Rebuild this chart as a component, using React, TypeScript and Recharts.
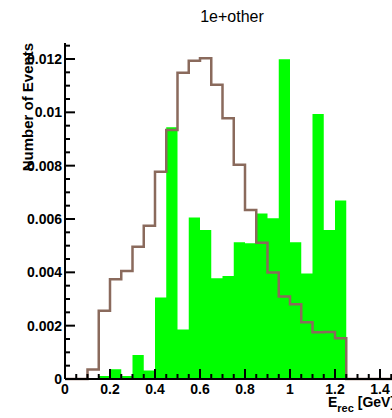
import { ComposedChart, Area, Line, XAxis, YAxis } from "recharts";

// histogram bin low edges (width 0.05 GeV), last entry closes the range
const binEdges = [
  0, 0.05, 0.1, 0.15, 0.2, 0.25, 0.3, 0.35, 0.4, 0.45, 0.5, 0.55, 0.6, 0.65,
  0.7, 0.75, 0.8, 0.85, 0.9, 0.95, 1.0, 1.05, 1.1, 1.15, 1.2, 1.25, 1.3, 1.35,
  1.4, 1.45, 1.5,
];

// green filled histogram (1e+other)
const greenCounts = [
  0, 0, 0.00004, 0.00011, 0.00037, 0.00011, 0.0009, 0.00032, 0.00306, 0.00944,
  0.00186, 0.00606, 0.00559, 0.00378, 0.00386, 0.00513, 0.00509, 0.00621,
  0.00603, 0.01199, 0.00513, 0.00396, 0.00994, 0.00559, 0.00669, 0, 0, 0, 0, 0,
];

// brown outline histogram
const brownCounts = [
  0, 0, 0.00036, 0.00256, 0.00374, 0.00405, 0.00496, 0.00575, 0.00777, 0.00934,
  0.01148, 0.01193, 0.01203, 0.01103, 0.00978, 0.00803, 0.00634, 0.00511,
  0.00399, 0.00309, 0.0028, 0.00213, 0.00175, 0.00176, 0.00153, 0, 0, 0, 0, 0,
];

const xMajorTicks = [0, 0.2, 0.4, 0.6, 0.8, 1, 1.2, 1.4];
const xTickLabels = ["0", "0.2", "0.4", "0.6", "0.8", "1", "1.2", "1.4"];
const yMajorTicks = [0, 0.002, 0.004, 0.006, 0.008, 0.01, 0.012];
const yTickLabels = ["0", "0.002", "0.004", "0.006", "0.008", "0.01", "0.012"];

const FONT = "'Liberation Sans', Arial, sans-serif";

const data = binEdges.map((x, i) => ({
  x,
  green: greenCounts[i] ?? 0,
  brown: brownCounts[i] ?? 0,
}));

const yMinorTicks = Array.from({ length: 26 }, (_, i) => +(i * 0.0005).toFixed(4));

const majorIndex = (v: number, list: number[]) =>
  list.findIndex((m) => Math.abs(m - v) < 1e-6);

const XTick = (props: any) => {
  const { x, y, payload } = props;
  const idx = majorIndex(payload.value, xMajorTicks);
  const major = idx >= 0;
  return (
    <g>
      <line x1={x} x2={x} y1={y} y2={y - (major ? 10 : 5)} stroke="#000" strokeWidth={2} />
      {major && (
        <text
          x={x}
          y={y + 15}
          textAnchor="middle"
          fontFamily={FONT}
          fontWeight="bold"
          fontSize={14}
          fill="#000"
        >
          {xTickLabels[idx]}
        </text>
      )}
    </g>
  );
};

const YTick = (props: any) => {
  const { x, y, payload } = props;
  const idx = majorIndex(payload.value, yMajorTicks);
  const major = idx >= 0;
  return (
    <g>
      <line x1={x} x2={x + (major ? 10 : 5)} y1={y} y2={y} stroke="#000" strokeWidth={2} />
      {major && (
        <text
          x={x - 3}
          y={y}
          dy="0.35em"
          textAnchor="end"
          fontFamily={FONT}
          fontWeight="bold"
          fontSize={14}
          fill="#000"
        >
          {yTickLabels[idx]}
        </text>
      )}
    </g>
  );
};

export default function App() {
  return (
    <div
      style={{
        position: "absolute",
        left: 0,
        top: 0,
        width: 392,
        height: 418,
        overflow: "hidden",
        background: "#fff",
      }}
    >
      <ComposedChart
        width={410}
        height={418}
        data={data}
        margin={{ top: 43, right: 7.5, bottom: 9, left: 5 }}
      >
        <XAxis
          dataKey="x"
          type="number"
          domain={[0, 1.5]}
          ticks={binEdges}
          interval={0}
          height={30}
          tickSize={0}
          tickMargin={0}
          tickLine={false}
          tick={<XTick />}
          axisLine={{ stroke: "#000", strokeWidth: 2 }}
        />
        <XAxis
          xAxisId="top"
          orientation="top"
          dataKey="x"
          type="number"
          domain={[0, 1.5]}
          height={0}
          tick={false}
          tickLine={false}
          axisLine={{ stroke: "#000", strokeWidth: 2 }}
        />
        <YAxis
          type="number"
          domain={[0, 0.0126]}
          ticks={yMinorTicks}
          interval={0}
          width={60}
          tickSize={0}
          tickMargin={0}
          tickLine={false}
          tick={<YTick />}
          axisLine={{ stroke: "#000", strokeWidth: 2 }}
        />
        <Area
          dataKey="green"
          type="stepAfter"
          fill="#00ff00"
          fillOpacity={1}
          stroke="none"
          isAnimationActive={false}
        />
        <Line
          dataKey="brown"
          type="stepAfter"
          stroke="#8a6a5c"
          strokeWidth={2.5}
          dot={false}
          isAnimationActive={false}
        />
      </ComposedChart>
      <svg
        width={392}
        height={418}
        style={{ position: "absolute", left: 0, top: 0, pointerEvents: "none" }}
      >
        <text x={232} y={22} textAnchor="middle" fontFamily={FONT} fontSize={16} fill="#000">
          1e+other
        </text>
        <text
          transform="translate(33,43) rotate(-90)"
          textAnchor="end"
          fontFamily={FONT}
          fontWeight="bold"
          fontSize={15}
          fill="#000"
        >
          Number of Events
        </text>
        <text x={328} y={407} fontFamily={FONT} fontWeight="bold" fontSize={14} fill="#000">
          E
          <tspan fontSize={11} dy={5}>rec</tspan>
          <tspan dy={-5}> [GeV]</tspan>
        </text>
      </svg>
    </div>
  );
}
